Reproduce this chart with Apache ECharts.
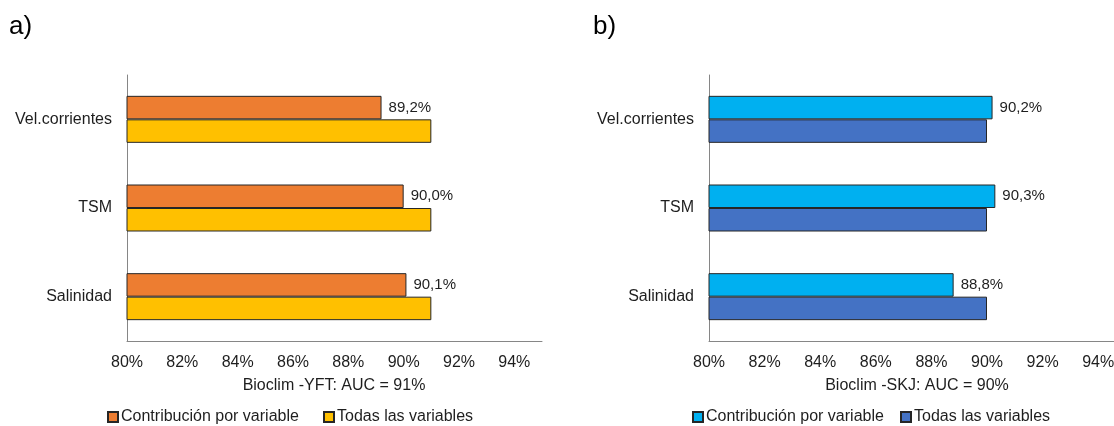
<!DOCTYPE html>
<html>
<head>
<meta charset="utf-8">
<title>Bioclim AUC</title>
<script src="https://cdn.jsdelivr.net/npm/echarts@6/dist/echarts.min.js"></script>
<style>
  html, body { margin: 0; padding: 0; background: #ffffff; overflow: hidden; }
  /* the right panel runs a little past the page edge */
  #chart { width: 1130px; height: 426px; }
</style>
</head>
<body>
<div id="chart"></div>
<script>
// Variables, listed top to bottom
const categories = ['Vel.corrientes', 'TSM', 'Salinidad'];

// AUC (%) for Bioclim – YFT
const yftContribution = [89.2, 90.0, 90.1];
const yftAll = [91, 91, 91];

// AUC (%) for Bioclim – SKJ
const skjContribution = [90.2, 90.3, 88.8];
const skjAll = [90, 90, 90];

// Axis range and tick step (%)
const axisMin = 80;
const axisMax = 95;
const axisStep = 2;

const panelTitles = ['Bioclim -YFT: AUC = 91%', 'Bioclim -SKJ: AUC = 90%'];
const panelTags = ['a)', 'b)'];
const legendNames = ['Contribución por variable', 'Todas las variables'];

const FONT = '"Liberation Sans", Arial, sans-serif';
const TEXT = '#1e1e1e';
const AXIS = '#868686';
const EDGE = '#262626';

const pct = v => v.toFixed(1).replace('.', ',') + '%';

const grids = [
  { left: 127, top: 75, width: 415, height: 266 },
  { left: 709, top: 75, width: 417, height: 266 }
];

function xAxisFor(i) {
  return {
    type: 'value', gridIndex: i, min: axisMin, max: axisMax, interval: axisStep,
    axisLine: { show: true, lineStyle: { color: AXIS, width: 1 } },
    axisTick: { show: false },
    splitLine: { show: false },
    axisLabel: {
      margin: 14, fontSize: 16, fontFamily: FONT, color: TEXT,
      showMaxLabel: false,
      formatter: v => v + '%'
    }
  };
}

function yAxisFor(i) {
  return {
    type: 'category', gridIndex: i, data: categories, inverse: true,
    axisLine: { show: true, lineStyle: { color: AXIS, width: 1 } },
    axisTick: { show: false },
    axisLabel: { margin: 15, fontSize: 16, fontFamily: FONT, color: TEXT, padding: [3, 0, 0, 0] }
  };
}

function barSeries(name, data, color, i, labelled) {
  return {
    type: 'bar', name: name, data: data,
    xAxisIndex: i, yAxisIndex: i,
    barWidth: 23.5, barGap: '0%',
    itemStyle: { color: color, borderColor: EDGE, borderWidth: 1 },
    label: labelled ? {
      show: true, position: 'right', distance: 7,
      fontSize: 15, fontFamily: FONT, color: TEXT,
      padding: [3, 0, 0, 0],
      formatter: p => pct(p.value)
    } : { show: false },
    emphasis: { disabled: true },
    silent: true
  };
}

const seriesKeys = ['yftContrib', 'yftAll', 'skjContrib', 'skjAll'];
const legendLabel = { yftContrib: legendNames[0], yftAll: legendNames[1], skjContrib: legendNames[0], skjAll: legendNames[1] };
const legendLeft = [107, 323, 692, 900];

const option = {
  animation: false,
  backgroundColor: '#ffffff',
  grid: grids,
  xAxis: [xAxisFor(0), xAxisFor(1)],
  yAxis: [yAxisFor(0), yAxisFor(1)],
  title: [
    { text: panelTitles[0], left: 334, top: 378, padding: 0, textAlign: 'center',
      textStyle: { fontSize: 16, fontWeight: 'normal', fontFamily: FONT, color: TEXT } },
    { text: panelTitles[1], left: 917, top: 378, padding: 0, textAlign: 'center',
      textStyle: { fontSize: 16, fontWeight: 'normal', fontFamily: FONT, color: TEXT } }
  ],
  legend: seriesKeys.map((k, j) => ({
    data: [k], left: legendLeft[j], top: 409, padding: 0,
    itemWidth: 10, itemHeight: 10, icon: 'rect', selectedMode: false,
    formatter: name => legendLabel[name],
    textStyle: { fontSize: 16, fontFamily: FONT, color: TEXT, padding: [0, 0, 0, -2] }
  })),
  graphic: [
    { type: 'text', left: 9, top: 14, style: { text: panelTags[0], fontSize: 26, fontFamily: FONT, fill: '#000' } },
    { type: 'text', left: 593, top: 14, style: { text: panelTags[1], fontSize: 26, fontFamily: FONT, fill: '#000' } }
  ],
  series: [
    barSeries('yftContrib', yftContribution, '#ED7D31', 0, true),
    barSeries('yftAll', yftAll, '#FFC000', 0, false),
    barSeries('skjContrib', skjContribution, '#00B0F0', 1, true),
    barSeries('skjAll', skjAll, '#4472C4', 1, false)
  ]
};

const chart = echarts.init(document.getElementById('chart'), null, { renderer: 'canvas' });
chart.setOption(option);
</script>
</body>
</html>
